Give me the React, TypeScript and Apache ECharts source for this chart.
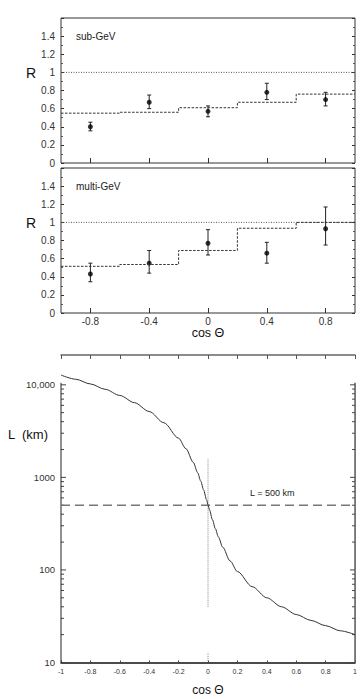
import React, { useEffect, useRef } from "react";
import * as echarts from "echarts";

// ---- data ----
const rTicks = [-0.8, -0.4, 0, 0.4, 0.8];
const binEdges = [-1, -0.6, -0.2, 0.2, 0.6, 1];

const subX = [-0.8, -0.4, 0, 0.4, 0.8];
const subR = [0.4, 0.67, 0.57, 0.78, 0.7];
const subLo = [0.355, 0.6, 0.51, 0.7, 0.63];
const subHi = [0.45, 0.75, 0.63, 0.88, 0.78];
const subStep = [0.55, 0.56, 0.61, 0.67, 0.76];

const multiX = [-0.8, -0.4, 0, 0.4, 0.8];
const multiR = [0.43, 0.55, 0.77, 0.66, 0.93];
const multiLo = [0.345, 0.44, 0.64, 0.55, 0.75];
const multiHi = [0.55, 0.69, 0.92, 0.78, 1.17];
const multiStep = [0.515, 0.535, 0.69, 0.935, 1.0];

const cosTheta = [
  -1, -0.9, -0.8, -0.7, -0.6, -0.5, -0.4, -0.3, -0.2, -0.15, -0.1, -0.07, -0.05,
  -0.03, -0.01, 0, 0.01, 0.03, 0.05, 0.07, 0.1, 0.15, 0.2, 0.3, 0.4, 0.5, 0.6,
  0.7, 0.8, 0.9, 1,
];
const lengthKm = [
  12760, 11490, 10220, 8950, 7680, 6410, 5150, 3890, 2650, 2040, 1450, 1120, 916,
  731, 573, 505, 446, 349, 279, 228, 176, 125, 96, 66, 50, 40, 33, 28.5, 25, 22, 20,
];
const logMajor = [10, 100, 1000, 10000];
const logMinorMult = [2, 3, 4, 5, 6, 7, 8, 9];
const L500 = 500;

const FONT = "'Liberation Sans', Arial, Helvetica, sans-serif";

function stepData(edges: number[], vals: number[]) {
  const d: number[][] = vals.map((v, i) => [edges[i], v]);
  d.push([edges[edges.length - 1], vals[vals.length - 1]]);
  return d;
}

function errRender(params: any, api: any) {
  const x = api.value(0);
  const p1 = api.coord([x, api.value(1)]);
  const p2 = api.coord([x, api.value(2)]);
  const w = 2;
  const style = { stroke: "#222", lineWidth: 1 };
  return {
    type: "group",
    children: [
      { type: "line", shape: { x1: p1[0], y1: p1[1], x2: p2[0], y2: p2[1] }, style },
      { type: "line", shape: { x1: p1[0] - w, y1: p1[1], x2: p1[0] + w, y2: p1[1] }, style },
      { type: "line", shape: { x1: p2[0] - w, y1: p2[1], x2: p2[0] + w, y2: p2[1] }, style },
    ],
  };
}

function logTickRender(params: any, api: any) {
  const v = api.value(1);
  const major = api.value(2) === 1;
  const len = major ? 5 : 3;
  const pl = api.coord([-1, v]);
  const pr = api.coord([1, v]);
  const style = { stroke: "#444", lineWidth: 1 };
  return {
    type: "group",
    children: [
      { type: "line", shape: { x1: pl[0], y1: pl[1], x2: pl[0] + len, y2: pl[1] }, style },
      { type: "line", shape: { x1: pr[0], y1: pr[1], x2: pr[0] - len, y2: pr[1] }, style },
    ],
  };
}

function rYAxis(gridIndex: number, right: boolean) {
  return {
    type: "value",
    gridIndex,
    position: right ? "right" : "left",
    min: 0,
    max: 1.6,
    interval: 0.2,
    axisLine: { show: false, onZero: false },
    axisTick: { show: true, inside: true, length: 3, lineStyle: { color: "#333" } },
    minorTick: { show: true, splitNumber: 2, length: 2, lineStyle: { color: "#555" } },
    splitLine: { show: false },
    axisLabel: {
      show: !right,
      margin: 6,
      fontSize: 10,
      color: "#333",
      fontFamily: FONT,
      formatter: (v: number) => (v > 1.5 ? "" : String(Math.round(v * 10) / 10)),
    },
  };
}

function rXAxis(gridIndex: number, labels: boolean) {
  return {
    type: "value",
    gridIndex,
    min: -1,
    max: 1,
    axisLine: { show: false, onZero: false },
    splitLine: { show: false },
    axisTick: { show: true, inside: true, length: 5, customValues: rTicks, lineStyle: { color: "#333" } },
    axisLabel: {
      show: labels,
      customValues: rTicks,
      margin: 3,
      fontSize: 10,
      color: "#333",
      fontFamily: FONT,
      formatter: (v: number) => String(Math.round(v * 10) / 10),
    },
  };
}

export default function App() {
  const ref = useRef<HTMLDivElement>(null);

  useEffect(() => {
    document.body.style.margin = "0";
    if (!ref.current) return;
    const chart = echarts.init(ref.current, undefined, { renderer: "svg" });

    const logTickData: number[][] = [];
    logMajor.forEach((m) => {
      logTickData.push([-1, m, 1]);
      if (m < 10000) logMinorMult.forEach((k) => logTickData.push([-1, m * k, 0]));
    });

    const option: any = {
      animation: false,
      backgroundColor: "#fff",
      textStyle: { fontFamily: FONT },
      grid: [
        { left: 61, right: 5, top: 18, height: 145, show: true, borderColor: "#333", borderWidth: 1 },
        { left: 61, right: 5, top: 168, height: 145, show: true, borderColor: "#333", borderWidth: 1 },
        { left: 61, right: 4, top: 355, bottom: 36.5, show: false },
      ],
      xAxis: [
        rXAxis(0, false),
        rXAxis(1, true),
        {
          type: "value",
          gridIndex: 2,
          min: -1,
          max: 1,
          interval: 0.2,
          axisLine: { show: true, onZero: false, lineStyle: { color: "#111", width: 1.5 } },
          axisTick: { show: true, inside: true, length: 2, lineStyle: { color: "#444" } },
          splitLine: { show: false },
          axisLabel: {
            margin: 5,
            fontSize: 7,
            color: "#333",
            fontFamily: FONT,
            formatter: (v: number) => String(Math.round(v * 10) / 10),
          },
        },
        {
          type: "value",
          gridIndex: 2,
          position: "top",
          min: -1,
          max: 1,
          interval: 0.2,
          axisLine: { show: true, onZero: false, lineStyle: { color: "#666", width: 1.5 } },
          axisTick: { show: true, inside: true, length: 4, lineStyle: { color: "#555" } },
          splitLine: { show: false },
          axisLabel: { show: false },
        },
      ],
      yAxis: [
        rYAxis(0, false),
        rYAxis(0, true),
        rYAxis(1, false),
        rYAxis(1, true),
        {
          type: "log",
          gridIndex: 2,
          logBase: 10,
          min: 10,
          max: 21000,
          axisLine: { show: false, onZero: false },
          axisTick: { show: false },
          splitLine: { show: false },
          axisLabel: {
            margin: 6,
            fontSize: 9.5,
            color: "#333",
            fontFamily: FONT,
            formatter: (v: number) => {
              for (const m of logMajor) {
                if (Math.abs(v - m) / m < 1e-6) return m === 10000 ? "10,000" : String(m);
              }
              return "";
            },
          },
        },
      ],
      series: [
        // ---- panel 1: sub-GeV ----
        {
          type: "line",
          xAxisIndex: 0,
          yAxisIndex: 0,
          data: [[-1, 1], [1, 1]],
          symbol: "none",
          lineStyle: { color: "#555", width: 1, type: [1, 1.5] },
        },
        {
          type: "line",
          xAxisIndex: 0,
          yAxisIndex: 0,
          step: "end",
          data: stepData(binEdges, subStep),
          symbol: "none",
          lineStyle: { color: "#333", width: 1, type: [2.5, 1.5] },
        },
        {
          type: "custom",
          xAxisIndex: 0,
          yAxisIndex: 0,
          renderItem: errRender,
          encode: { x: 0, y: [1, 2] },
          data: subX.map((x, i) => [x, subLo[i], subHi[i]]),
        },
        {
          type: "scatter",
          xAxisIndex: 0,
          yAxisIndex: 0,
          symbolSize: 5,
          itemStyle: { color: "#000" },
          data: subX.map((x, i) => [x, subR[i]]),
        },
        // ---- panel 2: multi-GeV ----
        {
          type: "line",
          xAxisIndex: 1,
          yAxisIndex: 2,
          data: [[-1, 1], [1, 1]],
          symbol: "none",
          lineStyle: { color: "#555", width: 1, type: [1, 1.5] },
        },
        {
          type: "line",
          xAxisIndex: 1,
          yAxisIndex: 2,
          step: "end",
          data: stepData(binEdges, multiStep),
          symbol: "none",
          lineStyle: { color: "#333", width: 1, type: [2.5, 1.5] },
        },
        {
          type: "custom",
          xAxisIndex: 1,
          yAxisIndex: 2,
          renderItem: errRender,
          encode: { x: 0, y: [1, 2] },
          data: multiX.map((x, i) => [x, multiLo[i], multiHi[i]]),
        },
        {
          type: "scatter",
          xAxisIndex: 1,
          yAxisIndex: 2,
          symbolSize: 5,
          itemStyle: { color: "#000" },
          data: multiX.map((x, i) => [x, multiR[i]]),
        },
        // ---- panel 3: path length ----
        {
          type: "line",
          xAxisIndex: 2,
          yAxisIndex: 4,
          data: [[-1, 10], [-1, 10500]],
          symbol: "none",
          lineStyle: { color: "#222", width: 1 },
        },
        {
          type: "line",
          xAxisIndex: 2,
          yAxisIndex: 4,
          data: [[1, 10], [1, 10500]],
          symbol: "none",
          lineStyle: { color: "#555", width: 1.5 },
        },
        {
          type: "custom",
          xAxisIndex: 2,
          yAxisIndex: 4,
          renderItem: logTickRender,
          encode: { x: 0, y: 1 },
          data: logTickData,
        },
        {
          type: "line",
          xAxisIndex: 2,
          yAxisIndex: 4,
          data: [[-1, L500], [1, L500]],
          symbol: "none",
          lineStyle: { color: "#777", width: 1.5, type: [9, 5] },
        },
        {
          type: "line",
          xAxisIndex: 2,
          yAxisIndex: 4,
          data: [[0, 40], [0, 1600]],
          symbol: "none",
          lineStyle: { color: "#888", width: 1, type: [1, 1] },
        },
        {
          type: "line",
          xAxisIndex: 2,
          yAxisIndex: 4,
          data: [[0, 10.4], [0, 12.8]],
          symbol: "none",
          lineStyle: { color: "#888", width: 1, type: [1, 1] },
        },
        {
          type: "line",
          xAxisIndex: 2,
          yAxisIndex: 4,
          data: cosTheta.map((c, i) => [c, lengthKm[i]]),
          symbol: "none",
          smooth: 0.3,
          smoothMonotone: "x",
          clip: false,
          lineStyle: { color: "#333", width: 1 },
        },
      ],
      graphic: [
        { type: "text", x: 31, y: 72.5, style: { text: "R", font: `14px ${FONT}`, fill: "#111", textAlign: "center", textVerticalAlign: "middle" } },
        { type: "text", x: 31, y: 223, style: { text: "R", font: `14px ${FONT}`, fill: "#111", textAlign: "center", textVerticalAlign: "middle" } },
        { type: "text", x: 76, y: 36.7, style: { text: "sub-GeV", font: `10px ${FONT}`, fill: "#222", textAlign: "left", textVerticalAlign: "middle" } },
        { type: "text", x: 76, y: 186.7, style: { text: "multi-GeV", font: `10px ${FONT}`, fill: "#222", textAlign: "left", textVerticalAlign: "middle" } },
        { type: "text", x: 208, y: 333, style: { text: "cos Θ", font: `12.5px ${FONT}`, fill: "#111", textAlign: "center", textVerticalAlign: "middle" } },
        { type: "text", x: 8, y: 434, style: { text: "L  (km)", font: `13px ${FONT}`, fill: "#111", textAlign: "left", textVerticalAlign: "middle" } },
        { type: "text", x: 250, y: 492.7, style: { text: "L = 500 km", font: `9px ${FONT}`, fill: "#222", textAlign: "left", textVerticalAlign: "middle" } },
        { type: "text", x: 208, y: 690, style: { text: "cos Θ", font: `12px ${FONT}`, fill: "#111", textAlign: "center", textVerticalAlign: "middle" } },
      ],
    };

    chart.setOption(option);
    return () => chart.dispose();
  }, []);

  return <div ref={ref} style={{ width: 360, height: 699 }} />;
}
